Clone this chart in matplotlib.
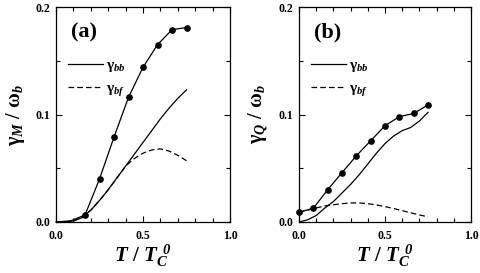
import matplotlib
matplotlib.use("Agg")
import matplotlib.pyplot as plt
from matplotlib.ticker import MultipleLocator

plt.rcParams['font.family'] = 'Liberation Serif'
plt.rcParams['font.weight'] = 'bold'
plt.rcParams['mathtext.fontset'] = 'custom'
plt.rcParams['mathtext.rm'] = 'Liberation Serif:bold'
plt.rcParams['mathtext.it'] = 'Liberation Serif:italic'
plt.rcParams['mathtext.bf'] = 'Liberation Serif:bold'
plt.rcParams['mathtext.bfit'] = 'Liberation Serif:italic:bold'

# --- data ---
t_dots = [0.0, 1/12, 1/6, 1/4, 1/3, 5/12, 1/2, 7/12, 2/3, 3/4]
t_line = [0.0, 0.05, 0.1, 0.15, 0.2, 0.25, 0.3, 0.35, 0.4, 0.45,
          0.5, 0.55, 0.6, 0.65, 0.7, 0.75]

# panel (a): gamma_M
a_total = [0.0, 0.001, 0.0065, 0.040, 0.079, 0.116, 0.144, 0.165, 0.179, 0.181]
a_bb = [0.0, 0.0, 0.001, 0.004, 0.011, 0.020, 0.030, 0.041, 0.052, 0.063,
        0.074, 0.085, 0.096, 0.106, 0.115, 0.123]
a_bf = [0.0, 0.0, 0.001, 0.004, 0.011, 0.020, 0.030, 0.041, 0.052, 0.059,
        0.064, 0.067, 0.068, 0.066, 0.062, 0.057]

# panel (b): gamma_Q
b_total = [0.0090, 0.0128, 0.030, 0.046, 0.0616, 0.0756, 0.0896, 0.098, 0.101, 0.109]
b_bb = [0.0, 0.002, 0.006, 0.013, 0.019, 0.027, 0.035, 0.044, 0.054, 0.064,
        0.073, 0.080, 0.085, 0.088, 0.094, 0.102]
b_bf = [0.009, 0.011, 0.013, 0.015, 0.016, 0.017, 0.0177, 0.0177, 0.017, 0.0158,
        0.0143, 0.0125, 0.0105, 0.0085, 0.0065, 0.0048]

panels = [
    ('(a)', r'$\mathbf{\gamma}_{\mathit{M}}\ \mathbf{/}\ \mathbf{\omega}_{\mathit{b}}$',
     a_total, a_bb, a_bf, 2, [0.1167, 0.187, 0.3625, 0.787]),
    ('(b)', r'$\mathbf{\gamma}_{\mathit{Q}}\ \mathbf{/}\ \mathbf{\omega}_{\mathit{b}}$',
     b_total, b_bb, b_bf, 0, [0.623, 0.187, 0.3583, 0.787]),
]

fig = plt.figure(figsize=(4.8, 2.73), dpi=100)

for tag, ylab, tot, bb, bf, first_mark, rect in panels:
    ax = fig.add_axes(rect)
    ax.plot(t_dots, tot, color='black', lw=0.9, marker='o', ms=3.8,
            markevery=slice(first_mark, None), clip_on=False)
    ax.plot(t_line, bb, color='black', lw=0.9, label=r'$\mathbf{\gamma}_{\mathit{bb}}$')
    ax.plot(t_line, bf, color='black', lw=0.9, ls=(0, (4.5, 2.5)),
            label=r'$\mathbf{\gamma}_{\mathit{bf}}$')

    ax.set_xlim(0, 1.0)
    ax.set_ylim(0, 0.2)
    ax.xaxis.set_major_locator(MultipleLocator(0.5))
    ax.xaxis.set_minor_locator(MultipleLocator(0.1))
    ax.yaxis.set_major_locator(MultipleLocator(0.1))
    ax.yaxis.set_minor_locator(MultipleLocator(0.05))
    ax.tick_params(which='both', direction='in', top=True, right=True,
                   width=0.8, labelsize=8.5)
    ax.tick_params(which='major', length=4.5)
    ax.tick_params(which='minor', length=3)
    ax.tick_params(axis='x', pad=6)
    ax.tick_params(axis='y', pad=4)
    ax.xaxis.set_major_formatter(plt.FormatStrFormatter('%.1f'))
    ax.yaxis.set_major_formatter(plt.FormatStrFormatter('%.1f'))
    for s in ax.spines.values():
        s.set_linewidth(0.9)

    ax.set_xlabel(r'$\mathbfit{T}\ \mathbf{/}\ \mathbfit{T}_{\mathbfit{C}}^{\;\;\mathbfit{0}}$',
                  fontsize=15, labelpad=0)
    ax.set_ylabel(ylab, fontsize=14.5, labelpad=6)
    ax.text(0.085, 0.93, tag, transform=ax.transAxes, fontsize=16,
            fontweight='bold', va='top', ha='left')
    ax.legend(loc='upper left', bbox_to_anchor=(0.07, 0.76), frameon=False,
              fontsize=11, handlelength=2.3, handletextpad=0.15,
              labelspacing=0.45, borderpad=0, borderaxespad=0)

fig.savefig('out.png', dpi=100)
